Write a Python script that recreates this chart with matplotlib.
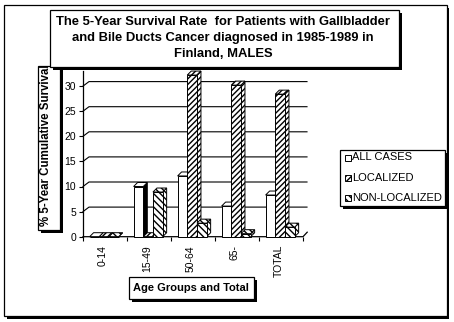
import numpy as np
import matplotlib
matplotlib.use("Agg")
from matplotlib import pyplot as plt
from matplotlib.patches import Rectangle, Polygon

plt.rcParams['font.family'] = ['Liberation Sans', 'DejaVu Sans']
plt.rcParams['hatch.linewidth'] = 1.0
plt.rcParams['hatch.color'] = 'black'

groups = ["0-14", "15-49", "50-64", "65-", "TOTAL"]
all_cases = [0.0, 10.0, 12.1, 6.1, 8.3]
localized = [0.0, 0.0, 32.2, 30.2, 28.4]
non_localized = [0.0, 8.9, 2.7, 0.6, 1.9]
series_names = ["ALL CASES", "LOCALIZED", "NON-LOCALIZED"]
yticks = [0, 5, 10, 15, 20, 25, 30]

W, H = 454, 322
fig = plt.figure(figsize=(W / 100, H / 100), dpi=100)
fig.patch.set_facecolor("white")

def fx(x):
    return x / W

def fy(y):
    return 1 - y / H

def shadow_box(x0, y0, x1, y1, sh=3, z=5):
    fig.patches.append(Rectangle((fx(x0 + sh), fy(y1 + sh)), fx(x1 - x0), (y1 - y0) / H,
                                 transform=fig.transFigure, facecolor="black",
                                 edgecolor="none", zorder=z))
    r = Rectangle((fx(x0), fy(y1)), fx(x1 - x0), (y1 - y0) / H,
                  transform=fig.transFigure, facecolor="white",
                  edgecolor="black", linewidth=0.9, zorder=z + 0.1)
    fig.patches.append(r)
    return r

# outer frame sits behind the plot
shadow_box(3.5, 4.5, 446.5, 315.5, sh=3, z=-5)

# plot area: x in category units, y in percent
x_left_px, x_right_px = 83, 303
y0_px, px_per_unit = 236.7, 5.02
ymax = 33.0
ax = fig.add_axes([fx(x_left_px), fy(y0_px), (x_right_px - x_left_px) / W,
                   ymax * px_per_unit / H])
ax.set_xlim(-0.5, 4.5)
ax.set_ylim(0, ymax)
ax.patch.set_alpha(0)
for s in ["top", "right", "bottom"]:
    ax.spines[s].set_visible(False)
ax.spines["left"].set_linewidth(0.9)

ux = 44.0          # px per category
uy = px_per_unit   # px per percent
bdx, bdy = 4 / ux, 4 / uy      # bar depth
gdx, gdy = 6 / ux, 4.5 / uy    # back wall offset

# back wall gridlines with the diagonal tie to the axis
for v in yticks[1:]:
    ax.plot([-0.5, -0.5 + gdx, 4.5 + bdx], [v, v + gdy, v + gdy],
            color="black", lw=0.8, clip_on=False, zorder=1)
# floor front edge
ax.plot([-0.5, 4.5, 4.5 + gdx * 0.7], [0, 0, gdy], color="black", lw=0.9,
        clip_on=False, zorder=1)

bw = 0.22
offsets = [-bw * 1.5, -bw * 0.5, bw * 0.5]
styles = [
    dict(face="white", hatch=None, side="black"),
    dict(face="white", hatch="//////", side="white"),
    dict(face="white", hatch="\\\\\\\\\\", side="white"),
]
xc = np.arange(len(groups)) - 0.02

z = 2
for i in range(len(groups)):
    for k, vals in enumerate([all_cases, localized, non_localized]):
        st = styles[k]
        x0 = xc[i] + offsets[k]
        h = vals[i]
        side = Polygon([(x0 + bw, 0), (x0 + bw + bdx, bdy), (x0 + bw + bdx, h + bdy), (x0 + bw, h)],
                       closed=True, facecolor=st["side"], edgecolor="black", lw=0.7,
                       hatch=st["hatch"], clip_on=False, zorder=z)
        top = Polygon([(x0, h), (x0 + bdx, h + bdy), (x0 + bw + bdx, h + bdy), (x0 + bw, h)],
                      closed=True, facecolor=st["face"], edgecolor="black", lw=0.7,
                      hatch=st["hatch"], clip_on=False, zorder=z)
        ax.add_patch(side)
        ax.add_patch(top)
        ax.bar(x0, h, width=bw, align="edge", facecolor=st["face"], edgecolor="black",
               lw=0.7, hatch=st["hatch"], clip_on=False, zorder=z + 0.5)
        z += 1

ax.set_yticks(yticks)
ax.set_yticklabels([str(v) for v in yticks])
ax.tick_params(axis="y", direction="out", length=3, width=0.8, pad=2, labelsize=7.5)
ax.set_xticks(np.arange(len(groups) + 1) - 0.5)
ax.set_xticklabels([])
ax.tick_params(axis="x", which="major", direction="out", length=3, width=0.8)
ax.set_xticks(np.arange(len(groups)) - 0.05, minor=True)
ax.set_xticklabels(groups, minor=True, rotation=90, fontsize=7.5)
ax.tick_params(axis="x", which="minor", length=0, pad=6)

# title box
shadow_box(49.5, 10, 399, 66.5, sh=3, z=6)
title_lines = ["The 5-Year Survival Rate  for Patients with Gallbladder",
               "and Bile Ducts Cancer diagnosed in 1985-1989 in",
               "Finland, MALES"]
for j, line in enumerate(title_lines):
    fig.text(fx(223), fy(22 + 15.8 * j), line, ha="center", va="center",
             fontsize=9.4, fontweight="bold", zorder=7)

# y label box, text clipped by its top edge
ybox = shadow_box(38, 66, 60.5, 230, sh=3, z=4)
yl = fig.text(fx(46), fy(226.5), "% 5-Year Cumulative Survival", rotation=90,
              ha="center", va="bottom", fontsize=8.3, fontweight="bold", zorder=4.5)
yl.set_clip_path(ybox)

# x label box
shadow_box(129, 277, 253.5, 299, sh=3, z=4)
fig.text(fx(191), fy(288), "Age Groups and Total", ha="center", va="center",
         fontsize=8, fontweight="bold", zorder=4.5)

# legend
shadow_box(340, 150, 444.5, 206, sh=3, z=4)
for k, name in enumerate(series_names):
    yc = 157.5 + 20.4 * k
    fig.patches.append(Rectangle((fx(344.5), fy(yc + 3)), fx(6), 6 / H,
                                 transform=fig.transFigure, facecolor="white",
                                 edgecolor="black", lw=0.7, hatch=styles[k]["hatch"],
                                 zorder=4.6))
    fig.text(fx(352.5), fy(yc), name, ha="left", va="center", fontsize=8, zorder=4.6)

fig.savefig("out.png", dpi=100)
